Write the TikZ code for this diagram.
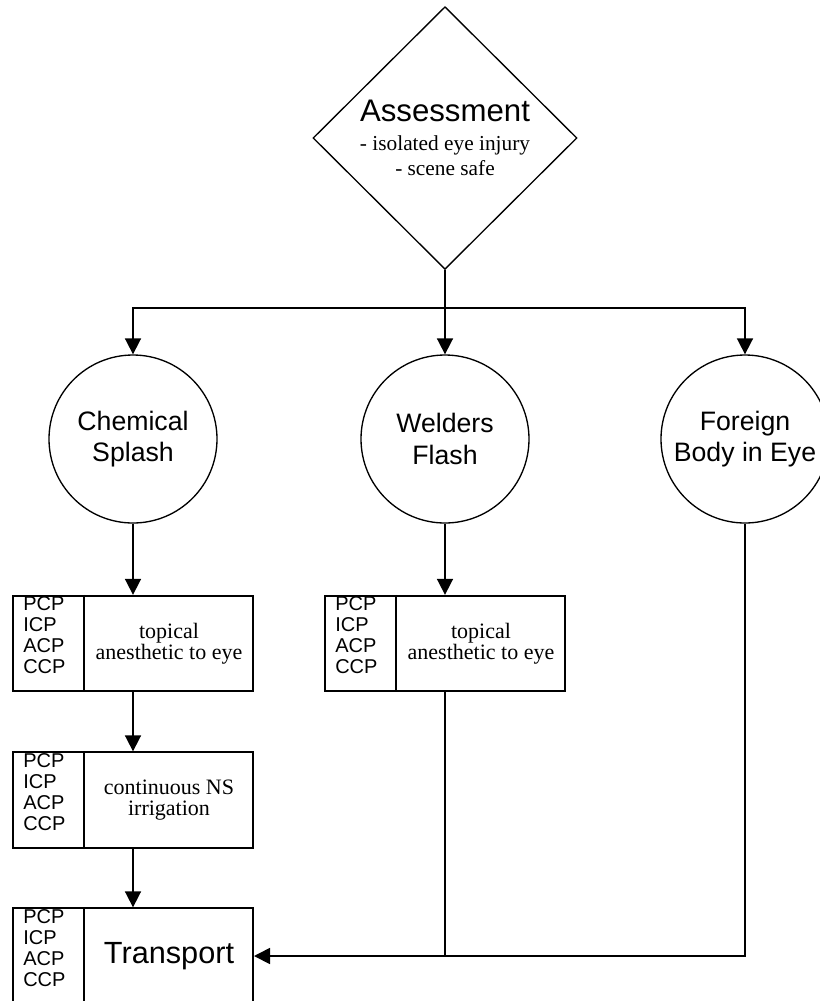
\documentclass[tikz,border=0pt]{standalone}
\usepackage{fontspec}
\setmainfont{Liberation Serif}
\setsansfont{Liberation Sans}
\usetikzlibrary{arrows.meta, shapes.geometric}

\begin{document}
\begin{tikzpicture}[
    x=0.75pt, y=-0.75pt,
    decision/.style={diamond, draw, line width=1pt, inner sep=0pt, minimum width=198pt, minimum height=197pt, align=center, font=\fontsize{16pt}{18.75pt}\selectfont},
    injury/.style={circle, draw, line width=1pt, inner sep=0pt, minimum size=126pt, align=center, font=\sffamily\fontsize{20pt}{23.75pt}\selectfont},
    stepframe/.style={rectangle, draw, line width=1.5pt, minimum width=180pt, minimum height=71.5pt, inner sep=0pt},
    task/.style={align=center, font=\fontsize{16.5pt}{16pt}\selectfont},
    roles/.style={anchor=base west, inner sep=0pt, align=left, font=\sffamily\fontsize{15pt}{15.75pt}\selectfont},
    flow/.style={-{Triangle[length=12pt, width=12pt]}, line width=1.3pt},
    link/.style={line width=1.3pt}
  ]
    \useasboundingbox (0,0) rectangle (820,1001);

    % decision and the three kinds of injury
    \node[decision] (assess) at (445,138) {{\sffamily\fontsize{23.4pt}{26pt}\selectfont Assessment}\\[3pt] - isolated eye injury\\ - scene safe};
    \coordinate (split) at (445,308);

    \node[injury] (chem) at (133,439) {Chemical\\Splash};
    \node[injury] (weld) at (445,439) {Welders\\Flash};
    \node[injury] (foreign) at (745,439) {Foreign\\Body in Eye};

    % treatment steps
    \node[stepframe] (chemtop) at (133,643.5) {};
    \node[stepframe] (chemirr) at (133,800) {};
    \node[stepframe] (weldtop) at (445,643.5) {};
    \node[stepframe] (transport) at (133,956) {};

    % role column: divider and the list (anchored on its last line)
    \foreach \b in {chemtop, chemirr, weldtop, transport} {
      \draw[line width=1.5pt] ([shift={(72,0)}]\b.north west) -- ([shift={(72,0)}]\b.south west);
      \node[roles] (\b-roles) at ([shift={(11,79)}]\b.north west) {PCP\\ICP\\ACP\\CCP};
    }

    \node[task] (chemtop-text) at ([shift={(36,0)}]chemtop.center) {topical\\anesthetic to eye};
    \node[task] (chemirr-text) at ([shift={(36,0)}]chemirr.center) {continuous NS\\irrigation};
    \node[task] (weldtop-text) at ([shift={(36,0)}]weldtop.center) {topical\\anesthetic to eye};
    \node[font=\sffamily\fontsize{23pt}{27pt}\selectfont] (transport-text) at ([shift={(36,0)}]transport.center) {Transport};

    % connectors
    \draw[link] (assess) -- (split);
    \draw[flow] (split) -| (chem);
    \draw[flow] (split) -- (weld);
    \draw[flow] (split) -| (foreign);
    \draw[flow] (chem) -- (chemtop);
    \draw[flow] (chemtop) -- (chemirr);
    \draw[flow] (chemirr) -- (transport);
    \draw[flow] (weld) -- (weldtop);
    \draw[flow] (foreign) |- (transport);
    \draw[link] (weldtop) -- (weldtop |- transport);
\end{tikzpicture}
\end{document}
